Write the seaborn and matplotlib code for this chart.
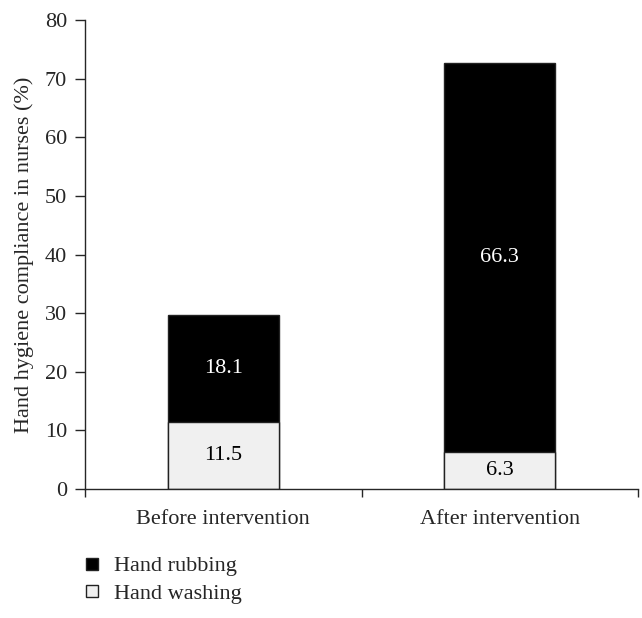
import numpy as np
import pandas as pd
import seaborn as sns
import matplotlib.pyplot as plt
from matplotlib.lines import Line2D

# data
groups = ["Before intervention", "After intervention"]
hand_washing = [11.5, 6.3]
hand_rubbing = [18.1, 66.3]
totals = [w + r for w, r in zip(hand_washing, hand_rubbing)]

sns.set_style("ticks")
plt.rcParams['font.family'] = ['Liberation Serif', 'DejaVu Serif']
plt.rcParams['font.size'] = 16

df = pd.DataFrame({"group": groups, "washing": hand_washing,
                   "rubbing": hand_rubbing, "total": totals})

fig = plt.figure(figsize=(6.42, 6.18), dpi=100)
ax = fig.add_axes([0.1324, 0.2087, 0.8614, 0.7589])

sns.barplot(data=df, x="group", y="total", color="black", width=0.4,
            edgecolor="#222222", linewidth=1, saturation=1, ax=ax)
sns.barplot(data=df, x="group", y="washing", color="#f0f0f0", width=0.4,
            edgecolor="#222222", linewidth=1, saturation=1, ax=ax)

for i in range(len(groups)):
    ax.text(i, hand_washing[i] / 2, f"{hand_washing[i]}", ha="center",
            va="center", color="black", fontsize=16)
    ax.text(i, hand_washing[i] + hand_rubbing[i] / 2, f"{hand_rubbing[i]}",
            ha="center", va="center", color="white", fontsize=16)

ax.set_xlim(-0.5, 1.5)
ax.set_ylim(0, 80)
ax.set_yticks(np.arange(0, 81, 10))
ax.set_xticks(range(len(groups)))
ax.set_xticklabels(groups)
ax.set_xticks([-0.5, 0.5, 1.5], minor=True)
ax.tick_params(axis="x", which="major", length=0, pad=15, labelsize=16)
ax.tick_params(axis="x", which="minor", length=6, width=1)
ax.tick_params(axis="y", length=7, width=1, pad=6, labelsize=16)
ax.set_xlabel("")
ax.set_ylabel("Hand hygiene compliance in nurses (%)", fontsize=16, labelpad=8)
for s in ["top", "right"]:
    ax.spines[s].set_visible(False)
for s in ["left", "bottom"]:
    ax.spines[s].set_linewidth(1)

handles = [
    Line2D([], [], marker="s", linestyle="", markersize=9,
           markerfacecolor="black", markeredgecolor="#222222"),
    Line2D([], [], marker="s", linestyle="", markersize=9,
           markerfacecolor="#f0f0f0", markeredgecolor="#222222"),
]
fig.legend(handles, ["Hand rubbing", "Hand washing"], loc="upper left",
           bbox_to_anchor=(0.109, 0.115), frameon=False, fontsize=16,
           handletextpad=0.4, labelspacing=0.3, handlelength=1.2,
           borderaxespad=0)

fig.savefig("out.png", dpi=100)
